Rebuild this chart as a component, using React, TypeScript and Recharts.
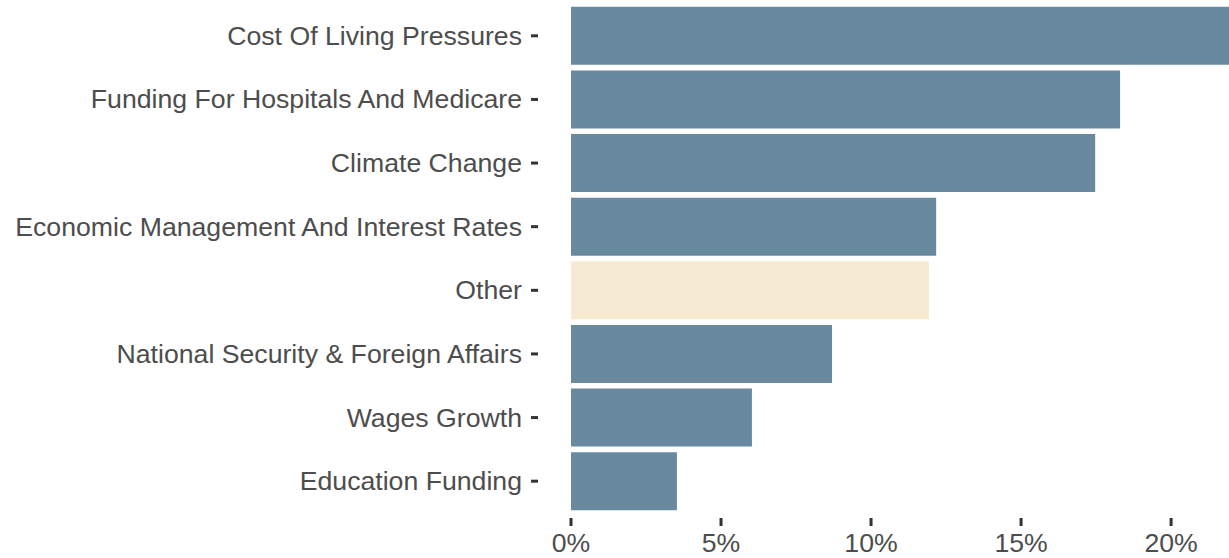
import React from 'react';
import { BarChart, Bar, XAxis, YAxis, Cell } from 'recharts';

const categories = [
  'Cost Of Living Pressures',
  'Funding For Hospitals And Medicare',
  'Climate Change',
  'Economic Management And Interest Rates',
  'Other',
  'National Security & Foreign Affairs',
  'Wages Growth',
  'Education Funding',
];
const values = [21.93, 18.3, 17.47, 12.17, 11.93, 8.7, 6.03, 3.53];
const highlight = ['Other'];
const xTicks = [0, 5, 10, 15, 20];

const BAR = '#68899E';
const OTHER = '#F7EAD3';
const TEXT = '#4D4D4D';
const TICK = '#333333';
const FONT = '"Liberation Sans", Arial, Helvetica, sans-serif';
const FS = 26.67;

const data = categories.map((c, i) => ({ name: c, value: values[i] }));

const YTick = (props: any) => {
  const { x, y, payload } = props;
  return (
    <g>
      <line x1={x - 40} x2={x - 33} y1={y} y2={y} stroke={TICK} strokeWidth={3} />
      <text x={x - 49} y={y + 9} textAnchor="end" fill={TEXT} fontSize={FS} fontFamily={FONT}>
        {payload.value}
      </text>
    </g>
  );
};

const XTick = (props: any) => {
  const { x, y, payload } = props;
  return (
    <g>
      <line x1={x} x2={x} y1={y + 5} y2={y + 13} stroke={TICK} strokeWidth={3} />
      <text x={x} y={y + 39} textAnchor="middle" fill={TEXT} fontSize={FS} fontFamily={FONT}>
        {payload.value + '%'}
      </text>
    </g>
  );
};

export default function App() {
  return (
    <div style={{ position: 'absolute', left: 0, top: 0, width: 1229, height: 558, background: '#fff' }}>
      <BarChart
        width={1229}
        height={558}
        data={data}
        layout="vertical"
        margin={{ top: 4, right: 0, bottom: 0, left: 0 }}
        barCategoryGap="4.4%"
      >
        <XAxis
          type="number"
          domain={[0, 21.93]}
          ticks={xTicks}
          allowDataOverflow
          axisLine={false}
          tickLine={false}
          tickSize={0}
          tickMargin={0}
          height={45}
          tick={<XTick />}
          interval={0}
        />
        <YAxis
          type="category"
          dataKey="name"
          width={571}
          axisLine={false}
          tickLine={false}
          tickSize={0}
          tickMargin={0}
          tick={<YTick />}
          interval={0}
        />
        <Bar dataKey="value" isAnimationActive={false}>
          {data.map((d) => (
            <Cell key={d.name} fill={highlight.includes(d.name) ? OTHER : BAR} />
          ))}
        </Bar>
      </BarChart>
    </div>
  );
}
